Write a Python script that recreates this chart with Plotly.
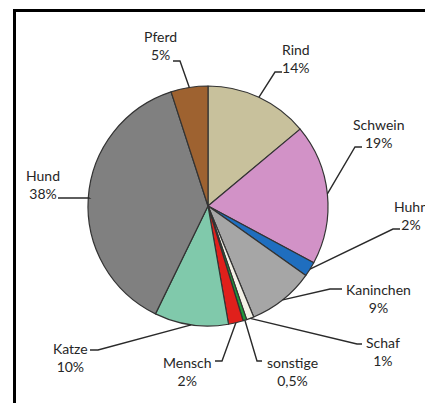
import math
import plotly.graph_objects as go

# ---- data ----
labels = ["Rind", "Schwein", "Huhn", "Kaninchen", "Schaf", "sonstige", "Mensch", "Katze", "Hund", "Pferd"]
values = [14, 19, 2, 9, 1, 0.5, 2, 10, 38, 5]
pct_text = ["14%", "19%", "2%", "9%", "1%", "0,5%", "2%", "10%", "38%", "5%"]
colors = ["#C8C19C", "#D292C7", "#1F6EBF", "#A6A6A6", "#F3F1E6", "#1E9A3A",
          "#E0201B", "#80C9AB", "#808080", "#9E6230"]

W, H = 425, 403
CX, CY, R = 208, 206, 120  # pie centre / radius in px

# label layout (px): text centre, elbow, end of short horizontal tick
label_layout = {
    "Rind":      dict(t=(296, 58),  e=(275, 72),  h=(282, 72)),
    "Schwein":   dict(t=(378, 133), e=(355, 147), h=(362, 147)),
    "Huhn":      dict(t=(411, 215), e=(393, 229), h=(400, 229)),
    "Kaninchen": dict(t=(378, 298), e=(330, 289), h=(342, 289)),
    "Schaf":     dict(t=(383, 351), e=(357, 344), h=(362, 344)),
    "sonstige":  dict(t=(292, 371), e=(257, 361), h=(262, 361)),
    "Mensch":    dict(t=(187, 371), e=(222, 361), h=(215, 361)),
    "Katze":     dict(t=(70, 357),  e=(98, 350),  h=(90, 350)),
    "Hund":      dict(t=(43, 184),  e=(89, 198),  h=(58, 198)),
    "Pferd":     dict(t=(160, 45),  e=(180, 61),  h=(173, 61)),
}

def px(x, y):
    return x / W, 1 - y / H

fig = go.Figure(go.Pie(
    labels=labels, values=values, sort=False, direction="clockwise", rotation=0,
    marker=dict(colors=colors, line=dict(color="#333333", width=1.2)),
    textinfo="none", hoverinfo="label+percent", showlegend=False,
    domain=dict(x=[(CX - R) / W, (CX + R) / W], y=[1 - (CY + R) / H, 1 - (CY - R) / H]),
))

total = sum(values)
cum = 0
shapes = []
annotations = []
for lab, v, pt in zip(labels, values, pct_text):
    mid = (cum + v / 2) / total * 2 * math.pi
    cum += v
    ex0 = CX + R * math.sin(mid)
    ey0 = CY - R * math.cos(mid)
    L = label_layout[lab]
    p0 = px(ex0, ey0); p1 = px(*L["e"]); p2 = px(*L["h"])
    shapes.append(dict(type="path", xref="paper", yref="paper",
                       path=f"M {p0[0]},{p0[1]} L {p1[0]},{p1[1]} L {p2[0]},{p2[1]}",
                       line=dict(color="#2a2a2a", width=1.4)))
    tx, ty = px(*L["t"])
    annotations.append(dict(x=tx, y=ty, xref="paper", yref="paper", showarrow=False,
                            xanchor="center", yanchor="middle",
                            text=f"{lab}<br>{pt}", align="center",
                            font=dict(family="Lato", size=14, color="#262626")))

# frame lines
shapes.append(dict(type="line", xref="paper", yref="paper", x0=px(13, 10.5)[0], y0=px(13, 10.5)[1],
                   x1=1.01, y1=px(13, 10.5)[1], line=dict(color="black", width=3)))
shapes.append(dict(type="line", xref="paper", yref="paper", x0=px(14.5, 9)[0], y0=px(14.5, 9)[1],
                   x1=px(14.5, 9)[0], y1=-0.01, line=dict(color="black", width=3)))

fig.update_layout(width=W, height=H, margin=dict(l=0, r=0, t=0, b=0),
                  paper_bgcolor="white", plot_bgcolor="white",
                  shapes=shapes, annotations=annotations)
fig.write_html("out.html", config={"displayModeBar": False},
               post_script="document.body.style.margin='0';document.body.style.overflow='hidden';")
